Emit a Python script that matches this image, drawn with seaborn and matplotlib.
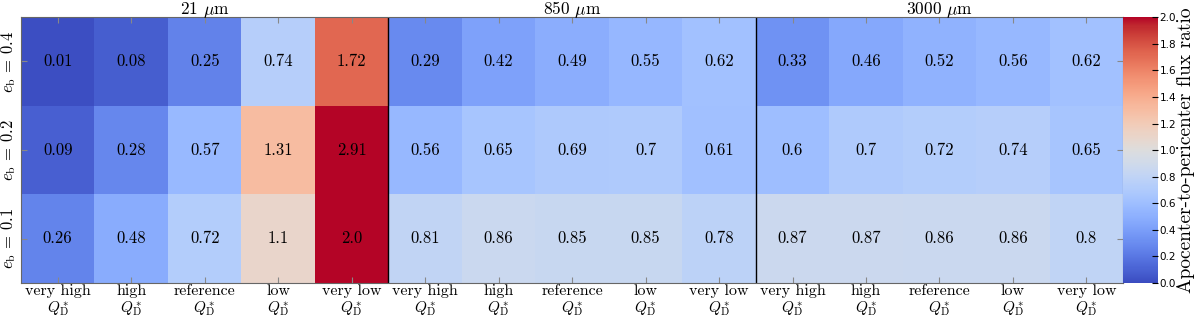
import numpy as np
import seaborn as sns
import matplotlib
matplotlib.use('Agg')
import matplotlib.pyplot as plt

# values
wavelengths = ['21 $\\mu$m', '850 $\\mu$m', '3000 $\\mu$m']
strengths = ['very high', 'high', 'reference', 'low', 'very low']
eccentricities = ['0.4', '0.2', '0.1']

ratio_04 = [0.01, 0.08, 0.25, 0.74, 1.72, 0.29, 0.42, 0.49, 0.55, 0.62, 0.33, 0.46, 0.52, 0.56, 0.62]
ratio_02 = [0.09, 0.28, 0.57, 1.31, 2.91, 0.56, 0.65, 0.69, 0.70, 0.61, 0.60, 0.70, 0.72, 0.74, 0.65]
ratio_01 = [0.26, 0.48, 0.72, 1.10, 2.00, 0.81, 0.86, 0.85, 0.85, 0.78, 0.87, 0.87, 0.86, 0.86, 0.80]

labels_04 = ['0.01', '0.08', '0.25', '0.74', '1.72', '0.29', '0.42', '0.49', '0.55', '0.62', '0.33', '0.46', '0.52', '0.56', '0.62']
labels_02 = ['0.09', '0.28', '0.57', '1.31', '2.91', '0.56', '0.65', '0.69', '0.7', '0.61', '0.6', '0.7', '0.72', '0.74', '0.65']
labels_01 = ['0.26', '0.48', '0.72', '1.1', '2.0', '0.81', '0.86', '0.85', '0.85', '0.78', '0.87', '0.87', '0.86', '0.86', '0.8']

plt.rcParams['font.family'] = 'cmr10'
plt.rcParams['mathtext.fontset'] = 'cm'
plt.rcParams['axes.formatter.use_mathtext'] = True

data = np.array([ratio_04, ratio_02, ratio_01])
annot = np.array([labels_04, labels_02, labels_01])
xlabels = strengths * len(wavelengths)
ylabels = [f'$e_\\mathrm{{b}}$ = {e}' for e in eccentricities]

fig = plt.figure(figsize=(12, 3.17), dpi=100)
ax = fig.add_axes([0.0175, 0.107, 0.9185, 0.839])
cax = fig.add_axes([0.936, 0.107, 0.029, 0.839])

sns.heatmap(data, ax=ax, cbar_ax=cax, cmap='coolwarm', vmin=0, vmax=2,
            annot=annot, fmt='', annot_kws={'fontsize': 12, 'color': 'black'},
            xticklabels=xlabels, yticklabels=ylabels)

ax.set_xticklabels(xlabels, rotation=0, fontsize=11.5)
ax.set_yticklabels(ylabels, rotation=90, va='center', fontsize=12)
ax.tick_params(direction='in', top=True, right=True, length=4, color='#888888', pad=1)
ax.tick_params(axis='y', pad=2)

# second line of each column label
for j in range(len(xlabels)):
    ax.annotate('$Q^*_\\mathrm{D}$', xy=(j + 0.5, data.shape[0]), xytext=(0, -29),
                textcoords='offset pixels', ha='center', va='baseline', fontsize=11)

for sp in ax.spines.values():
    sp.set_visible(True)
    sp.set_color('#666666')

# separators between wavelength groups
for x in [5, 10]:
    ax.axvline(x, color='black', lw=1)

for i, w in enumerate(wavelengths):
    ax.annotate(w, xy=(5 * i + 2.5, 0), xytext=(0, 2), textcoords='offset points',
                ha='center', va='baseline', fontsize=12.5)

cbar = ax.collections[0].colorbar
cbar.set_ticks(np.arange(0, 2.01, 0.2))
cbar.set_ticklabels([f'{t:.1f}' for t in np.arange(0, 2.01, 0.2)])
for t in cbar.ax.get_yticklabels():
    t.set_family('DejaVu Sans')
cbar.ax.tick_params(direction='in', length=4, labelsize=7.5, pad=1)
cbar.outline.set_visible(True)
cbar.outline.set_edgecolor('black')
cbar.set_label('Apocenter-to-pericenter flux ratio', fontsize=14, labelpad=1)

fig.savefig('out.png', dpi=100)
